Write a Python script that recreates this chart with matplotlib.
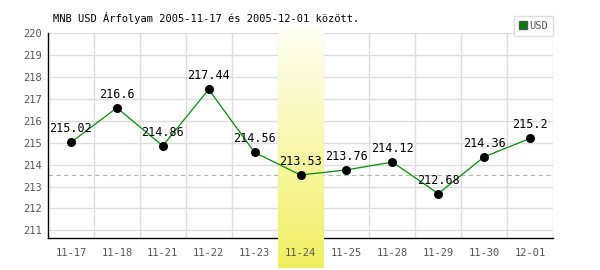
import numpy as np
import matplotlib
matplotlib.use('Agg')
import matplotlib.pyplot as plt
from matplotlib.colors import LinearSegmentedColormap

dates = ['11-17', '11-18', '11-21', '11-22', '11-23', '11-24',
         '11-25', '11-28', '11-29', '11-30', '12-01']
usd = [215.02, 216.6, 214.86, 217.44, 214.56, 213.53,
       213.76, 214.12, 212.68, 214.36, 215.2]
yticks = list(range(211, 221))
highlight = 5  # index of 11-24

plt.rcParams['font.family'] = ['DejaVu Sans Mono']

fig = plt.figure(figsize=(6, 2.7), dpi=100)
ax = fig.add_axes([0.08, 0.1185, 0.8417, 0.7595])

x = np.arange(len(dates))
ymin, ymax = 210.65, 220.02

# grid
for b in np.arange(-0.5, len(dates), 1)[1:]:
    ax.axvline(b, color='#dddddd', lw=1, zorder=1)
for t in yticks:
    ax.axhline(t, color='#dddddd', lw=1, zorder=1)

ax.axhline(usd[highlight], color='#aab8aa', lw=0.8, ls=(0, (4, 3)), zorder=2)

# highlighted day: yellow gradient band, covers grid/axis and runs below it
cmap = LinearSegmentedColormap.from_list('hl', ['#fffff6', '#f0ef60'])
grad = np.linspace(0, 1, 256).reshape(-1, 1)
ax.imshow(grad, aspect='auto', cmap=cmap, origin='upper', clip_on=False,
          extent=[highlight - 0.5, highlight + 0.5, 209.28, 220.25], zorder=2.7)

ax.set_xlim(-0.5, len(dates) - 0.5)
ax.set_ylim(ymin, ymax)

ax.plot(x, usd, color='#009000', lw=0.9, zorder=3, label='USD')
ax.scatter(x, usd, s=30, color='black', zorder=4)
for xi, v in zip(x, usd):
    ax.annotate(f'{v:g}', (xi, v), xytext=(0, 5), textcoords='offset points',
                ha='center', va='bottom', fontsize=8.5, color='black', zorder=5)

ax.set_xticks(x)
ax.set_xticklabels(dates)
ax.set_yticks(yticks)
ax.tick_params(axis='both', length=0, labelsize=7.5, labelcolor='#555555')
ax.tick_params(axis='x', pad=7)
ax.tick_params(axis='y', pad=4)
ax.xaxis.set_zorder(6)
for s in ['top', 'right']:
    ax.spines[s].set_visible(False)
for s in ['left', 'bottom']:
    ax.spines[s].set_color('black')
    ax.spines[s].set_linewidth(1)

fig.text(0.088, 0.935, 'MNB USD Árfolyam 2005-11-17 és 2005-12-01 között.',
         fontsize=7.5, color='black', va='center')

leg = ax.legend(handles=[plt.Line2D([], [], marker='s', ls='', color='#008000',
                                    markeredgecolor='#555555', markersize=6)],
                labels=['USD'], loc='lower right', bbox_to_anchor=(1.0, 0.985),
                frameon=True, fontsize=7.5, handlelength=0.6, handletextpad=0.3,
                borderpad=0.5, borderaxespad=0.0, fancybox=False)
leg.get_frame().set_edgecolor('#dddddd')
leg.get_frame().set_linewidth(1)
leg.get_frame().set_alpha(1)
leg.set_zorder(7)
for t in leg.get_texts():
    t.set_color('#555555')

fig.savefig('out.png', dpi=100)
